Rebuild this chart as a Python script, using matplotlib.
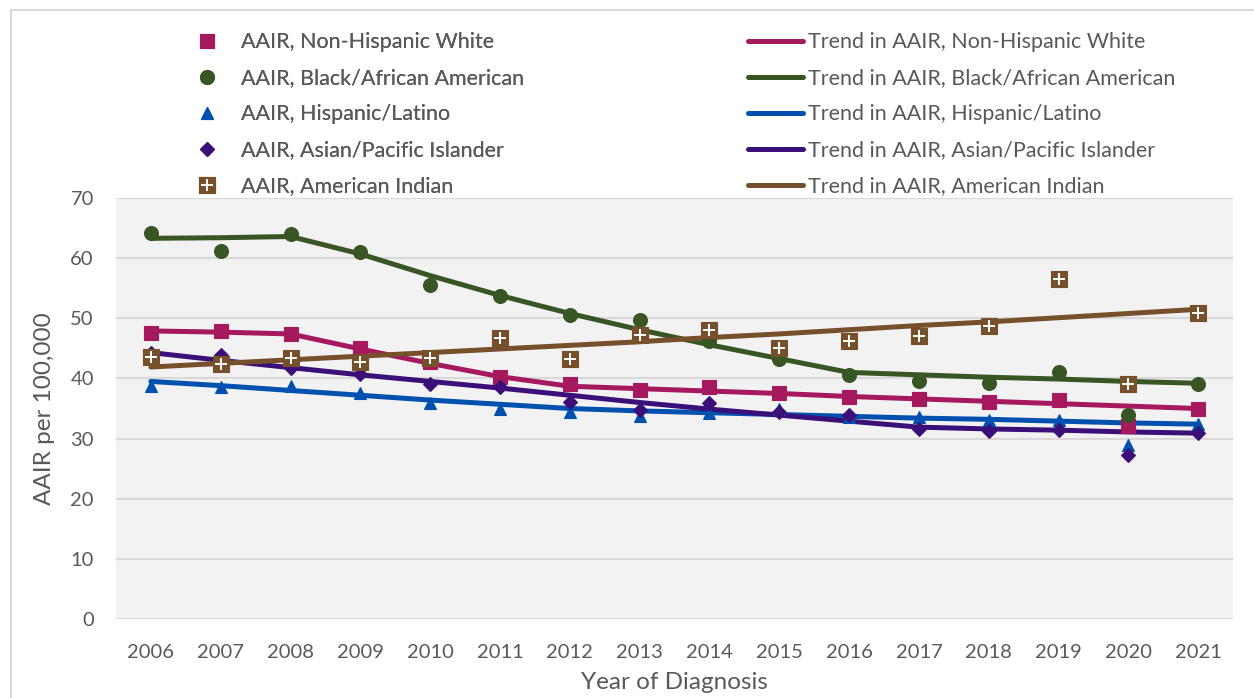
import matplotlib
matplotlib.use('Agg')
import matplotlib.pyplot as plt
from matplotlib.lines import Line2D
from matplotlib.legend_handler import HandlerTuple

plt.rcParams['font.family'] = ['Lato', 'DejaVu Sans']

years = ['2006', '2007', '2008', '2009', '2010', '2011', '2012', '2013',
         '2014', '2015', '2016', '2017', '2018', '2019', '2020', '2021']

# observed age-adjusted incidence rates
nhw = [47.6, 47.9, 47.4, 45.0, 42.7, 40.2, 39.1, 38.0, 38.6, 37.5, 36.9, 36.5, 36.0, 36.4, 32.1, 35.0]
black = [64.2, 61.2, 64.1, 61.0, 55.5, 53.7, 50.6, 49.8, 46.2, 43.2, 40.5, 39.6, 39.3, 41.0, 34.0, 39.0]
hisp = [38.7, 38.6, 38.8, 37.6, 35.9, 34.9, 34.4, 33.8, 34.2, 34.9, 33.6, 33.6, 33.1, 33.1, 29.0, 32.4]
asian = [44.2, 43.9, 41.7, 40.7, 39.0, 38.5, 36.1, 34.8, 35.9, 34.4, 33.9, 31.6, 31.3, 31.4, 27.3, 31.0]
amind = [43.5, 42.4, 43.4, 42.8, 43.4, 46.7, 43.2, 47.2, 48.1, 45.0, 46.3, 47.1, 48.7, 56.6, 39.0, 50.8]

# fitted trends
nhw_tr = [47.9, 47.7, 47.4, 44.9, 42.5, 40.3, 38.7, 38.3, 37.9, 37.5, 37.0, 36.6, 36.2, 35.8, 35.4, 35.0]
black_tr = [63.3, 63.4, 63.6, 60.7, 57.1, 53.8, 50.8, 48.1, 45.6, 43.3, 41.0, 40.6, 40.2, 39.9, 39.5, 39.2]
hisp_tr = [39.5, 38.8, 38.0, 37.2, 36.4, 35.7, 35.0, 34.6, 34.3, 34.0, 33.7, 33.4, 33.2, 32.9, 32.6, 32.4]
asian_tr = [44.3, 43.0, 41.8, 40.6, 39.5, 38.4, 37.2, 36.0, 34.9, 33.9, 32.9, 31.9, 31.6, 31.4, 31.1, 30.9]
amind_tr = [41.9, 42.5, 43.1, 43.7, 44.3, 44.9, 45.5, 46.1, 46.8, 47.4, 48.1, 48.8, 49.4, 50.1, 50.8, 51.5]

groups = ['Non-Hispanic White', 'Black/African American', 'Hispanic/Latino',
          'Asian/Pacific Islander', 'American Indian']
colors = ['#A6195F', '#375623', '#0050B0', '#3B0F78', '#76502A']
markers = ['s', 'o', '^', 'D', 's']
msizes = [10, 10, 9, 7, 11]

obs = [nhw, black, hisp, asian, amind]
trends = [nhw_tr, black_tr, hisp_tr, asian_tr, amind_tr]

fig = plt.figure(figsize=(12.54, 6.98), dpi=100)
ax = fig.add_axes([0.0925, 0.1132, 0.8908, 0.6031])
ax.set_facecolor('#F2F2F2')

x = list(range(len(years)))
mk_handles = []
ln_handles = []
for i in range(5):
    l, = ax.plot(x, trends[i], color=colors[i], lw=3.6, solid_capstyle='round',
                 solid_joinstyle='round', zorder=3)
    ln_handles.append(l)
for i in range(5):
    m, = ax.plot(x, obs[i], ls='none', marker=markers[i], ms=msizes[i],
                 color=colors[i], mec=colors[i], mew=0.8, zorder=4)
    if i == 4:
        p, = ax.plot(x, obs[i], ls='none', marker='+', ms=8, mew=1.4,
                     color='white', zorder=5)
        mk_handles.append((m, p))
    else:
        mk_handles.append(m)

ax.set_xlim(-0.5, 15.5)
ax.set_ylim(0, 70)
ax.set_yticks(range(0, 71, 10))
ax.set_xticks(x)
ax.set_xticklabels(years)
ax.grid(axis='y', color='#D9D9D9', lw=1.5)
ax.set_axisbelow(True)
for s in ax.spines.values():
    s.set_visible(False)
ax.tick_params(length=0, labelsize=14.5, labelcolor='#595959')
ax.tick_params(axis='y', pad=16)
ax.tick_params(axis='x', pad=18)
ax.set_ylabel('AAIR per 100,000', fontsize=17.5, color='#595959', labelpad=11)
ax.set_xlabel('Year of Diagnosis', fontsize=17.5, color='#595959', labelpad=8)

leg1 = fig.legend(mk_handles, ['AAIR, ' + g for g in groups],
                  handler_map={tuple: HandlerTuple(ndivide=1)},
                  loc='upper left', bbox_to_anchor=(0.1535, 0.9536), frameon=False,
                  fontsize=15.5, labelcolor='#595959', handlelength=1.35,
                  handletextpad=0.9, labelspacing=0.74, borderpad=0, borderaxespad=0)
fig.legend(ln_handles, ['Trend in AAIR, ' + g for g in groups],
           loc='upper left', bbox_to_anchor=(0.5965, 0.9536), frameon=False,
           fontsize=15.5, labelcolor='#595959', handlelength=2.55,
           handletextpad=0.22, labelspacing=0.74, borderpad=0, borderaxespad=0)
fig.add_artist(leg1)

# outer chart border
fig.add_artist(Line2D([11 / 1254, 11 / 1254], [0, 1 - 10 / 698], transform=fig.transFigure,
                      color='#D9D9D9', lw=1.5))
fig.add_artist(Line2D([11 / 1254, 1], [1 - 10 / 698, 1 - 10 / 698], transform=fig.transFigure,
                      color='#D9D9D9', lw=1.5))

fig.savefig('out.png', dpi=100)
